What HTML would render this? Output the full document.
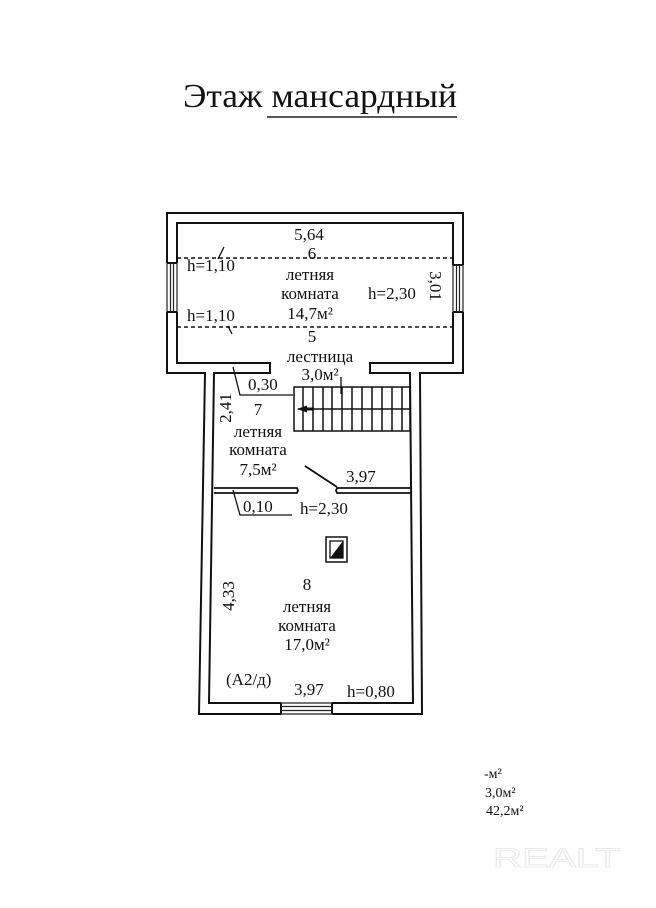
<!DOCTYPE html>
<html>
<head>
<meta charset="utf-8">
<style>
  html, body { margin:0; padding:0; background:#fff; }
  svg { display:block; }
  text { font-family: "Liberation Serif", "Noto Serif CJK SC", serif; fill:#111; }
</style>
</head>
<body>
<svg width="656" height="908" viewBox="0 0 656 908" xmlns="http://www.w3.org/2000/svg">
  <rect width="656" height="908" fill="#fff"/>

  <!-- Title -->
  <text x="183" y="107" font-size="34" textLength="274" lengthAdjust="spacingAndGlyphs">Этаж мансардный</text>
  <line x1="267" y1="117" x2="457" y2="117" stroke="#222" stroke-width="1.5"/>

  <g fill="none" stroke="#111" stroke-width="2" stroke-linejoin="miter">
    <!-- Outer walls -->
    <polyline points="167,263 167,213 463,213 463,265"/>
    <polyline points="463,312 463,373 420,373 422,714 332,714"/>
    <polyline points="281,714 199,714 205,373 167,373 167,312"/>
    <!-- Inner walls -->
    <polyline points="177,263 177,223 453,223 453,265"/>
    <polyline points="453,312 453,363 370,363 370,373 410,373 413,703 332,703"/>
    <polyline points="281,703 209,703 214,373 270,373 270,363 177,363 177,312"/>
    <!-- window caps -->
    <line x1="167" y1="263" x2="177" y2="263"/>
    <line x1="167" y1="312" x2="177" y2="312"/>
    <line x1="453" y1="265" x2="463" y2="265"/>
    <line x1="453" y1="312" x2="463" y2="312"/>
    <line x1="281" y1="703" x2="281" y2="714"/>
    <line x1="332" y1="703" x2="332" y2="714"/>
  </g>

  <!-- windows -->
  <g stroke="#222" stroke-width="1.2" fill="none">
    <line x1="167" y1="263" x2="167" y2="312"/>
    <line x1="170.5" y1="263" x2="170.5" y2="312"/>
    <line x1="173.5" y1="263" x2="173.5" y2="312"/>
    <line x1="177" y1="263" x2="177" y2="312"/>
    <line x1="453" y1="265" x2="453" y2="312"/>
    <line x1="456.5" y1="265" x2="456.5" y2="312"/>
    <line x1="459.5" y1="265" x2="459.5" y2="312"/>
    <line x1="463" y1="265" x2="463" y2="312"/>
    <line x1="281" y1="703" x2="332" y2="703"/>
    <line x1="281" y1="706.5" x2="332" y2="706.5"/>
    <line x1="281" y1="710.5" x2="332" y2="710.5"/>
    <line x1="281" y1="714" x2="332" y2="714"/>
  </g>

  <!-- dashed lines -->
  <g stroke="#111" stroke-width="1.6" stroke-dasharray="4 3">
    <line x1="177" y1="258" x2="453" y2="258"/>
    <line x1="177" y1="327" x2="453" y2="327"/>
  </g>

  <!-- partition between 7 and 8 -->
  <g fill="none" stroke="#111" stroke-width="1.8">
    <polyline points="214,488 297,488 298,490.5 297,493 214,493"/>
    <polyline points="411,488 337,488 336,490.5 337,493 411,493"/>
    <line x1="305" y1="466" x2="337" y2="487"/>
  </g>

  <!-- leader lines & ticks -->
  <g fill="none" stroke="#111" stroke-width="1.3">
    <polyline points="233,367 240,395 293,395"/>
    <polyline points="233,490 240,515 292,515"/>
    <line x1="218" y1="259" x2="224" y2="247"/>
    <line x1="228" y1="326" x2="232" y2="334"/>
    <line x1="341" y1="377" x2="341" y2="394"/>
  </g>

  <!-- stairs -->
  <g fill="none" stroke="#111" stroke-width="1.5">
    <rect x="294" y="387" width="116" height="44"/>
    <line x1="298" y1="409" x2="410" y2="409"/>
    <line x1="303" y1="387" x2="303" y2="431"/>
    <line x1="313" y1="387" x2="313" y2="431"/>
    <line x1="323" y1="387" x2="323" y2="431"/>
    <line x1="332" y1="387" x2="332" y2="431"/>
    <line x1="342" y1="387" x2="342" y2="431"/>
    <line x1="352" y1="387" x2="352" y2="431"/>
    <line x1="362" y1="387" x2="362" y2="431"/>
    <line x1="372" y1="387" x2="372" y2="431"/>
    <line x1="382" y1="387" x2="382" y2="431"/>
    <line x1="392" y1="387" x2="392" y2="431"/>
    <line x1="402" y1="387" x2="402" y2="431"/>
  </g>
  <polygon points="297,409 307,405.5 307,412.5" fill="#111"/>
  <line x1="306" y1="409" x2="314" y2="409" stroke="#111" stroke-width="3"/>

  <!-- symbol in room 8 -->
  <rect x="326" y="537" width="21" height="25" fill="none" stroke="#111" stroke-width="1.5"/>
  <rect x="330" y="541" width="13" height="17" fill="#fff" stroke="#111" stroke-width="1.3"/>
  <polygon points="330.5,557.5 342.5,541.5 342.5,557.5" fill="#111"/>

  <!-- labels -->
  <g font-size="17" text-anchor="middle">
    <text x="309" y="240">5,64</text>
    <text x="312" y="259">6</text>
    <text x="310" y="280">летняя</text>
    <text x="310" y="299">комната</text>
    <text x="310" y="319">14,7м²</text>
    <text x="312" y="342">5</text>
    <text x="320" y="362">лестница</text>
    <text x="320" y="380">3,0м²</text>
    <text x="258" y="415">7</text>
    <text x="258" y="437">летняя</text>
    <text x="258" y="455">комната</text>
    <text x="258" y="475">7,5м²</text>
    <text x="307" y="590">8</text>
    <text x="307" y="612">летняя</text>
    <text x="307" y="631">комната</text>
    <text x="307" y="650">17,0м²</text>
  </g>
  <g font-size="17">
    <text x="187" y="271">h=1,10</text>
    <text x="187" y="321">h=1,10</text>
    <text x="368" y="299">h=2,30</text>
    <text x="248" y="390">0,30</text>
    <text x="346" y="482">3,97</text>
    <text x="243" y="512">0,10</text>
    <text x="300" y="514">h=2,30</text>
    <text x="226" y="685">(А2/д)</text>
    <text x="294" y="695">3,97</text>
    <text x="347" y="697">h=0,80</text>
  </g>
  <!-- rotated dims -->
  <text font-size="17" text-anchor="middle" transform="translate(225,408) rotate(-90)" x="0" y="6">2,41</text>
  <text font-size="17" text-anchor="middle" transform="translate(228,596) rotate(-90)" x="0" y="6">4,33</text>
  <text font-size="17" text-anchor="middle" transform="translate(436,286) rotate(90)" x="0" y="6">3,01</text>

  <!-- summary -->
  <g font-size="14">
    <text x="484" y="778">-м²</text>
    <text x="485" y="797">3,0м²</text>
    <text x="486" y="815">42,2м²</text>
  </g>

  <!-- watermark -->
  <text x="493" y="867" font-size="27" textLength="127" lengthAdjust="spacingAndGlyphs" style="font-family:'Liberation Sans',sans-serif;fill:none;stroke:#ececec;stroke-width:1.1">REALT</text>
</svg>
</body>
</html>
